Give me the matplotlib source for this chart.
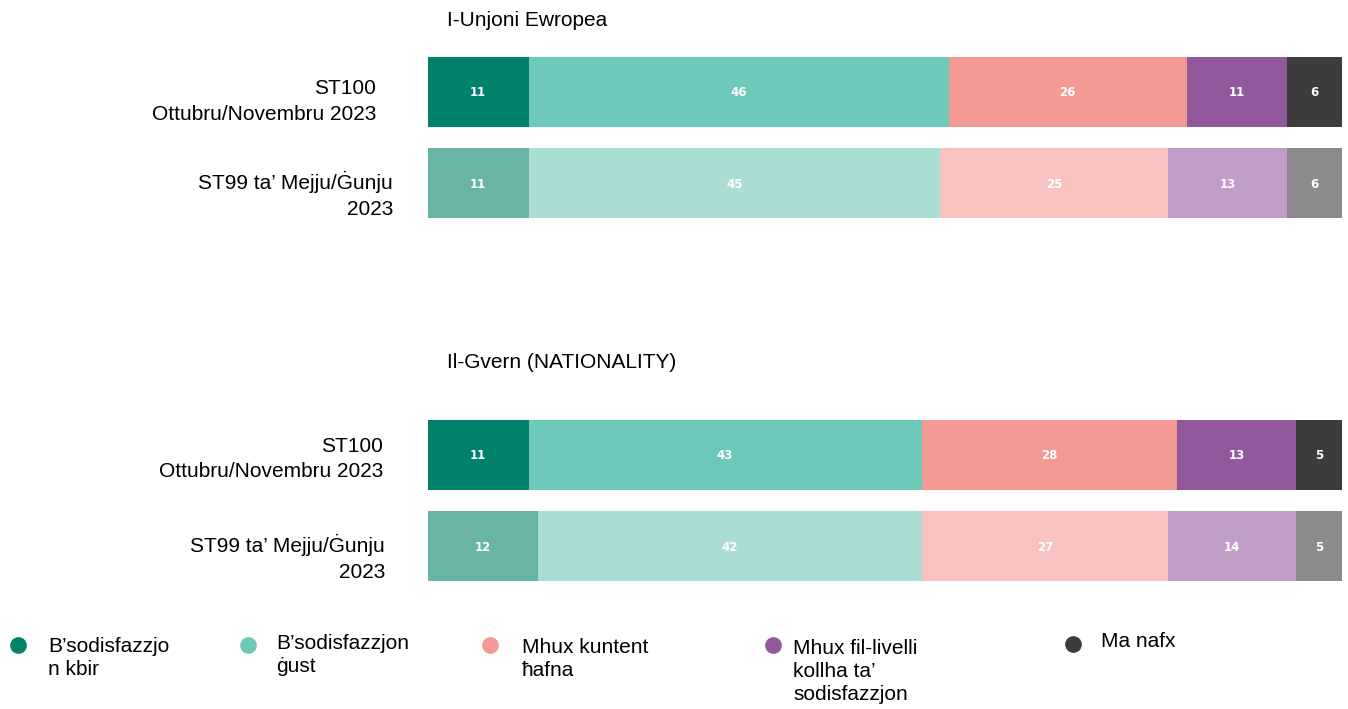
import matplotlib
matplotlib.use("Agg")
import matplotlib.pyplot as plt
from matplotlib.lines import Line2D

W, H = 1348, 709
plt.rcParams['font.family'] = ['Liberation Sans', 'DejaVu Sans']

# ---------------- data ----------------
categories = ["B\u2019sodisfazzjo\nn kbir", "B\u2019sodisfazzjon\n\u0121ust", "Mhux kuntent\n\u0127afna",
              "Mhux fil-livelli\nkollha ta\u2019\nsodisfazzjon", "Ma nafx"]
panel_titles = ["I-Unjoni Ewropea", "Il-Gvern (NATIONALITY)"]
row_labels = ["ST100\nOttubru/Novembru 2023", "ST99 ta\u2019 Mejju/\u0120unju\n2023"]
eu_values = [[11, 46, 26, 11, 6],
             [11, 45, 25, 13, 6]]
gov_values = [[11, 43, 28, 13, 5],
              [12, 42, 27, 14, 5]]

colors_new = ["#00826A", "#6EC8B7", "#F49994", "#91599C", "#3D3B3E"]
colors_old = ["#68B5A6", "#AADDD4", "#F8C2C0", "#BF9DC7", "#8C8A8C"]

fig = plt.figure(figsize=(W / 100, H / 100), dpi=100)


def px_axes(x0, y0, x1, y1):
    return fig.add_axes([x0 / W, 1 - y1 / H, (x1 - x0) / W, (y1 - y0) / H])


bar_h = 70 / 91.5
half = bar_h / 2
FS = 15


def draw_panel(ax, values, title, label_pads, label_dy, title_dy):
    for r, vals in enumerate(values):
        cols = colors_new if r == 0 else colors_old
        left = 0
        for v, c in zip(vals, cols):
            ax.barh(r, v, left=left, height=bar_h, color=c, edgecolor='none')
            ax.text(left + v / 2, r + 0.01, str(v), ha='center', va='center', color='white',
                    fontsize=8.5, fontweight='bold', family='DejaVu Sans')
            left += v
    ax.set_xlim(0, 100)
    ax.set_ylim(1 + half, -half)
    ax.axis('off')
    for r, (lab, pad, dy) in enumerate(zip(row_labels, label_pads, label_dy)):
        ax.annotate(lab, xy=(0, r), xycoords=('axes fraction', 'data'),
                    xytext=(-pad, -dy), textcoords='offset pixels',
                    ha='right', va='center', fontsize=FS, linespacing=1.45)
    ax.annotate(title, xy=(0, -half), xycoords=('axes fraction', 'data'),
                xytext=(19, title_dy), textcoords='offset pixels',
                ha='left', va='center', fontsize=FS)


ax1 = px_axes(428, 57, 1342, 218)
draw_panel(ax1, eu_values, panel_titles[0], [52, 35], [9.5, 12], 37)
ax2 = px_axes(428, 420, 1342, 581)
draw_panel(ax2, gov_values, panel_titles[1], [45, 43], [4, 11.5], 58)

# ---------------- legend ----------------
marker_x = [18, 248, 490, 773, 1073]
marker_y = [645, 645, 645, 645, 644]
text_x = [48, 276, 522, 793, 1101]
text_top = [637, 634, 638, 639, 632]
for i, lab in enumerate(categories):
    fig.add_artist(Line2D([marker_x[i] / W], [1 - marker_y[i] / H], marker='o',
                          markersize=11, color=colors_new[i], linestyle='none',
                          transform=fig.transFigure))
    fig.text(text_x[i] / W, 1 - text_top[i] / H, lab, ha='left', va='top',
             fontsize=FS, linespacing=1.25)

fig.savefig("out.png", dpi=100)
